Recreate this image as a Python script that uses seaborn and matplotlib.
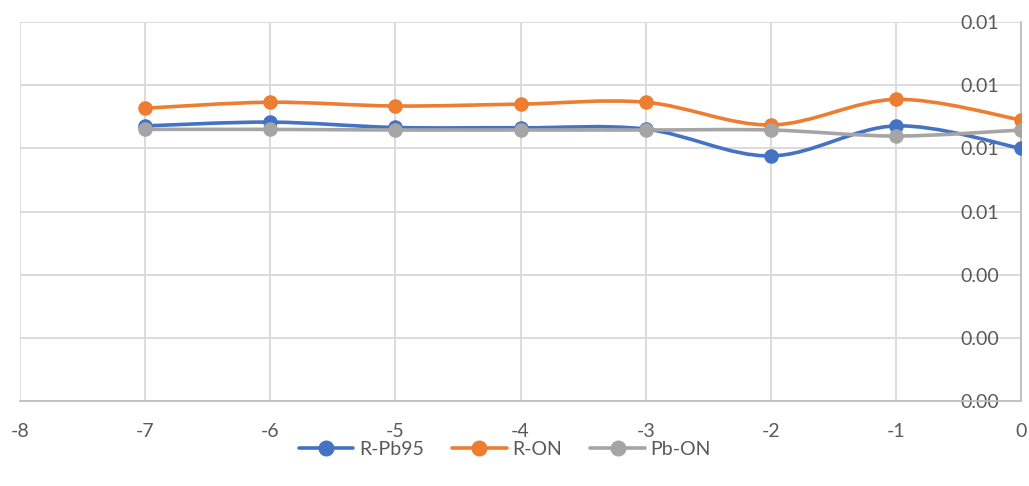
import numpy as np
import pandas as pd
import matplotlib
matplotlib.use("Agg")
import matplotlib.pyplot as plt
from matplotlib.path import Path
from matplotlib.patches import PathPatch
from matplotlib.lines import Line2D
from matplotlib.ticker import FuncFormatter
import seaborn as sns

# ---- data ----
x_vals = [-7, -6, -5, -4, -3, -2, -1, 0]
r_pb95 = [0.00871, 0.00883, 0.00866, 0.00865, 0.00861, 0.00776, 0.00871, 0.00800]
r_on = [0.00927, 0.00946, 0.00934, 0.00940, 0.00946, 0.00874, 0.00955, 0.00890]
pb_on = [0.00860, 0.00860, 0.00858, 0.00858, 0.00858, 0.00858, 0.00839, 0.00858]
series_names = ["R-Pb95", "R-ON", "Pb-ON"]
colors = ["#4472C4", "#ED7D31", "#A5A5A5"]
x_ticks = [-8, -7, -6, -5, -4, -3, -2, -1, 0]
y_ticks = [0.0, 0.002, 0.004, 0.006, 0.008, 0.010, 0.012]

sns.set_theme(style="white")
plt.rcParams['font.family'] = ['Lato', 'DejaVu Sans']
text_color = "#595959"
grid_color = "#D9D9D9"
fs = 14

fig = plt.figure(figsize=(10.29, 4.86), dpi=100)
ax = fig.add_axes([20/1029, 1 - 401/486, (1021 - 20)/1029, (401 - 22)/486])

def smooth_path(xs, ys):
    pts = np.column_stack([xs, ys]).astype(float)
    n = len(pts)
    verts = [pts[0]]
    codes = [Path.MOVETO]
    for i in range(n - 1):
        p0 = pts[i - 1] if i > 0 else pts[i]
        p1 = pts[i]
        p2 = pts[i + 1]
        p3 = pts[i + 2] if i + 2 < n else pts[i + 1]
        c1 = p1 + (p2 - p0) / 6.0
        c2 = p2 - (p3 - p1) / 6.0
        verts += [c1, c2, p2]
        codes += [Path.CURVE4] * 3
    return Path(verts, codes)

frames = []
for name, vals in zip(series_names, [r_pb95, r_on, pb_on]):
    frames.append(pd.DataFrame({"x": x_vals, "y": vals, "series": name}))
df = pd.concat(frames, ignore_index=True)

for k, (name, col) in enumerate(zip(series_names, colors)):
    sub = df[df["series"] == name]
    patch = PathPatch(smooth_path(sub["x"].values, sub["y"].values), facecolor="none",
                      edgecolor=col, lw=2.6, zorder=3 + 2 * k, capstyle="round", joinstyle="round")
    ax.add_patch(patch)
    sns.scatterplot(data=sub, x="x", y="y", color=col, s=110, edgecolor=col, linewidth=0,
                    ax=ax, zorder=4 + 2 * k, legend=False)

ax.set_xlim(-8, 0)
ax.set_ylim(0, 0.012)
ax.set_xticks(x_ticks)
ax.set_yticks(y_ticks)
ax.yaxis.set_major_formatter(FuncFormatter(lambda v, p: f"{v:.2f}"))
ax.xaxis.set_major_formatter(FuncFormatter(lambda v, p: f"{int(round(v))}"))
ax.grid(True, color=grid_color, lw=1.3)
ax.set_axisbelow(True)
ax.set_xlabel("")
ax.set_ylabel("")

for s in ["top", "right"]:
    ax.spines[s].set_visible(False)
ax.spines["left"].set_position(("data", 0))
ax.spines["left"].set_color("#BFBFBF")
ax.spines["left"].set_linewidth(1.3)
ax.spines["bottom"].set_color("#BFBFBF")
ax.spines["bottom"].set_linewidth(1.3)
ax.tick_params(axis="y", length=0, pad=16, labelsize=fs, labelcolor=text_color)
ax.tick_params(axis="x", length=0, pad=15.5, labelsize=fs, labelcolor=text_color)

handles = [Line2D([0], [0], color=c, lw=2.6, marker="o", markersize=10.5) for c in colors]
fig.legend(handles, series_names, loc="center", bbox_to_anchor=(505/1029, 1 - 449/486),
           ncol=3, frameon=False, fontsize=fs, labelcolor=text_color,
           handlelength=2.8, columnspacing=1.45, handletextpad=0.3)

fig.savefig("out.png", dpi=100)
